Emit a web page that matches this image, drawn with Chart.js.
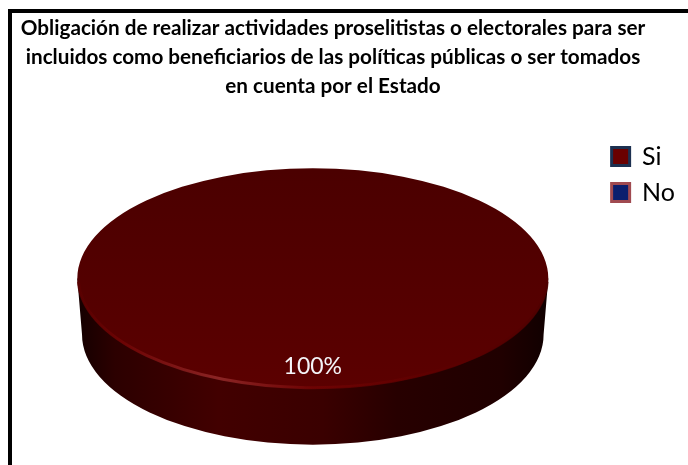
<!DOCTYPE html>
<html>
<head>
<meta charset="utf-8">
<style>
  html, body { margin: 0; background: #fff; overflow: hidden; }
  #frame { position: absolute; left: 8px; top: 9px; width: 680px; height: 456px; box-sizing: border-box;
           border-left: 4px solid #000; border-top: 4px solid #000; }
  #chart { position: absolute; left: 0; top: 0; }
</style>
</head>
<body>
<div id="frame"></div>
<canvas id="chart" width="688" height="465"></canvas>
<script src="https://cdn.jsdelivr.net/npm/chart.js@4/dist/chart.umd.min.js"></script>
<script>
var titleLines = [
  "Obligación de realizar actividades proselitistas o electorales para ser",
  "incluidos como beneficiarios de las políticas públicas o ser tomados",
  "en cuenta por el Estado",
];
var categories = ["Si", "No"];
var seriesValues = [100, 0];

// ellipse look of the pie
var tilt = 0.468;
var depth = 56;
var baseShrink = 0.98;

var legendFill = ["#6a0000", "#0b1f6e"];
var legendStroke = ["#1c3050", "#a04a50"];

function sideGradient(ctx, x, r) {
  var g = ctx.createLinearGradient(x - r, 0, x + r, 0);
  g.addColorStop(0, "#140000");
  g.addColorStop(0.08, "#2c0000");
  g.addColorStop(0.3, "#420000");
  g.addColorStop(0.52, "#3a0000");
  g.addColorStop(0.68, "#270000");
  g.addColorStop(0.9, "#200000");
  g.addColorStop(1, "#100000");
  return g;
}

function rimGradient(ctx, x, r) {
  var g = ctx.createLinearGradient(x - r, 0, x + r, 0);
  g.addColorStop(0, "#5a0000");
  g.addColorStop(0.1, "#760606");
  g.addColorStop(0.3, "#a03434");
  g.addColorStop(0.5, "#760404");
  g.addColorStop(0.75, "#600000");
  g.addColorStop(1, "#4c0000");
  return g;
}

// squashes the pie into an ellipse and draws the side wall below it
var pie3d = {
  id: "pie3d",
  afterLayout: function (chart) {
    chart.titleBlock.left -= 44;
    chart.legend.top = 133;
    chart.legend.left -= 3;
  },
  beforeDatasetsDraw: function (chart) {
    var arc = chart.getDatasetMeta(0).data[0];
    var ctx = chart.ctx;
    var x = arc.x, y = arc.y, r = arc.outerRadius;
    ctx.save();
    ctx.beginPath();
    ctx.moveTo(x + r, y);
    ctx.lineTo(x + r * baseShrink, y + depth);
    ctx.ellipse(x, y + depth, r * baseShrink, r * tilt, 0, 0, Math.PI);
    ctx.lineTo(x - r, y);
    ctx.closePath();
    ctx.fillStyle = sideGradient(ctx, x, r);
    ctx.fill();
    ctx.translate(x, y);
    ctx.scale(1, tilt);
    ctx.translate(-x, -y);
  },
  afterDatasetsDraw: function (chart) {
    var arc = chart.getDatasetMeta(0).data[0];
    var ctx = chart.ctx;
    var x = arc.x, y = arc.y, r = arc.outerRadius;
    ctx.restore();

    ctx.save();
    ctx.beginPath();
    ctx.ellipse(x, y, r - 1, r * tilt - 1, 0, 0.03, Math.PI - 0.03);
    ctx.strokeStyle = rimGradient(ctx, x, r);
    ctx.lineWidth = 3;
    ctx.globalAlpha = 0.7;
    ctx.stroke();

    var total = seriesValues.reduce(function (a, b) { return a + b; }, 0);
    var mid = (arc.startAngle + arc.endAngle) / 2;
    ctx.globalAlpha = 1;
    ctx.fillStyle = "#f4f4f8";
    ctx.font = "23px Lato";
    ctx.textAlign = "center";
    ctx.textBaseline = "middle";
    ctx.fillText(
      Math.round((seriesValues[0] / total) * 100) + "%",
      x + Math.cos(mid) * r * 0.8,
      y + Math.sin(mid) * r * 0.8 * tilt
    );
    ctx.restore();
  },
};

var ctx = document.getElementById("chart").getContext("2d");
var myChart = new Chart(ctx, {
  type: "pie",
  data: {
    labels: categories,
    datasets: [
      {
        data: seriesValues,
        clip: false,
        borderWidth: 0,
        radius: 235.5,
        backgroundColor: function (context) {
          var area = context.chart.chartArea;
          if (!area) return "#520000";
          if (context.dataIndex > 0) return legendFill[1];
          var g = context.chart.ctx.createLinearGradient(0, area.top - 140, 0, area.bottom + 80);
          g.addColorStop(0, "#480000");
          g.addColorStop(1, "#5c0000");
          return g;
        },
      },
    ],
  },
  options: {
    responsive: false,
    animation: false,
    layout: { padding: { left: 22, bottom: 9 } },
    plugins: {
      tooltip: { enabled: false },
      title: {
        display: true,
        text: titleLines,
        color: "#000",
        font: { family: "Lato", size: 20.7, weight: "bold", lineHeight: 1.4 },
        padding: { top: 14, bottom: 0 },
      },
      legend: {
        position: "right",
        align: "start",
        labels: {
          color: "#222",
          font: { family: "Lato", size: 25 },
          boxWidth: 18,
          boxHeight: 18,
          padding: 11,
          generateLabels: function () {
            return categories.map(function (name, i) {
              return {
                text: name,
                fillStyle: legendFill[i],
                strokeStyle: legendStroke[i],
                lineWidth: 3,
                index: i,
              };
            });
          },
        },
      },
    },
  },
  plugins: [pie3d],
});
</script>
</body>
</html>
